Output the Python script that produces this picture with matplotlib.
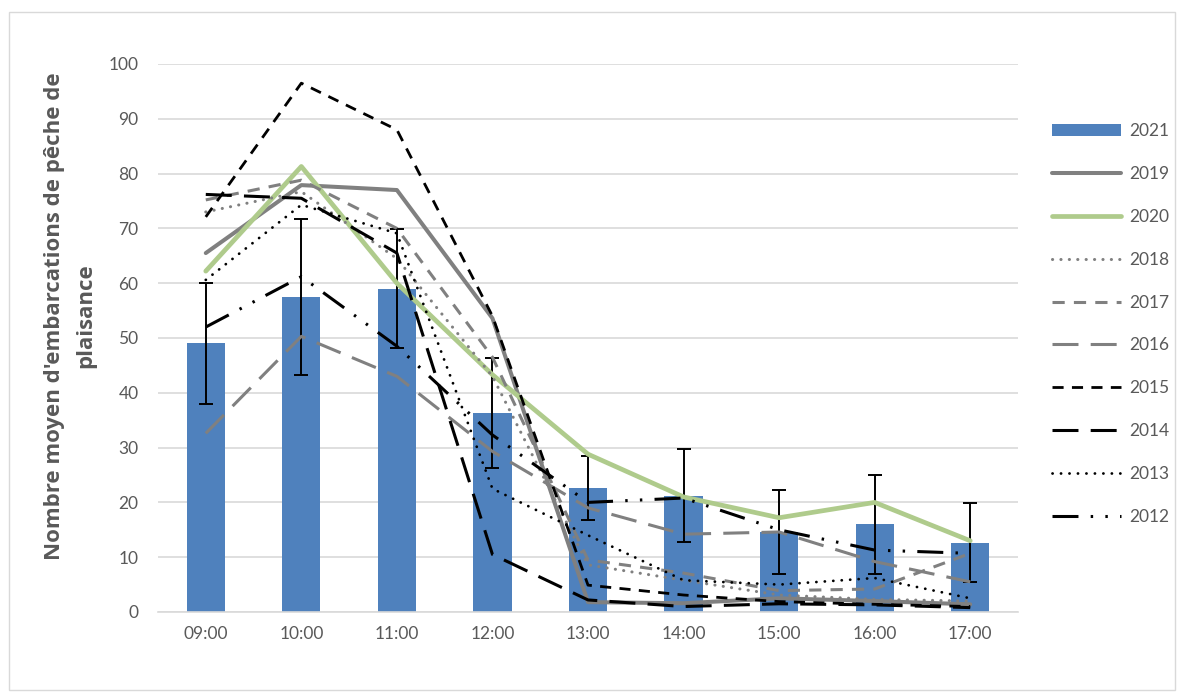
import matplotlib.pyplot as plt
from matplotlib.patches import Rectangle
import numpy as np

plt.rcParams["font.family"] = ["Lato", "DejaVu Sans"]

hours = ["09:00", "10:00", "11:00", "12:00", "13:00", "14:00", "15:00", "16:00", "17:00"]

y2021 = [49.0, 57.5, 59.0, 36.3, 22.6, 21.2, 14.6, 16.0, 12.6]
err2021 = [11.0, 14.2, 10.8, 10.0, 5.8, 8.5, 7.6, 9.0, 7.2]

y2019 = [65.5, 77.9, 77.0, 53.6, 1.8, 1.6, 2.5, 2.0, 1.4]
y2020 = [62.2, 81.3, 60.0, 43.3, 28.8, 21.0, 17.2, 20.0, 13.0]
y2018 = [73.0, 76.7, 64.5, 43.0, 8.6, 5.8, 3.1, 2.3, 2.0]
y2017 = [75.2, 78.8, 70.0, 46.5, 9.5, 7.1, 3.9, 4.2, 10.7]
y2016 = [32.6, 50.3, 43.0, 29.3, 19.0, 14.2, 14.6, 9.2, 5.5]
y2015 = [72.1, 96.5, 88.0, 54.0, 4.9, 3.1, 1.9, 1.4, 1.0]
y2014 = [76.2, 75.5, 65.5, 10.5, 2.2, 1.0, 1.5, 1.3, 0.8]
y2013 = [60.6, 74.3, 69.1, 22.5, 14.0, 5.8, 5.0, 6.2, 2.5]
y2012 = [52.0, 61.2, 48.5, 32.3, 20.0, 20.8, 15.0, 11.3, 10.7]

TXT = "#595959"
GRAY = "#808080"
GREEN = "#AFCB8C"


def main() -> None:
    fig = plt.figure(figsize=(11.84, 6.97), dpi=100)
    ax = fig.add_axes([158 / 1184, 1 - 612 / 697, 860 / 1184, 548 / 697])
    x = np.arange(len(hours))

    ax.bar(x, y2021, width=0.4, color="#4F81BD", label="2021", zorder=2)
    ax.errorbar(x, y2021, yerr=err2021, fmt="none", ecolor="black", elinewidth=1.4,
                capsize=5, capthick=1.4, zorder=3)

    series = [
        ("2019", y2019, dict(color=GRAY, lw=2.9, solid_capstyle="round")),
        ("2020", y2020, dict(color=GREEN, lw=3.4, solid_capstyle="round")),
        ("2018", y2018, dict(color=GRAY, lw=2.2, dashes=(0.05, 2.7), dash_capstyle="round")),
        ("2017", y2017, dict(color=GRAY, lw=2.2, dashes=(4, 3))),
        ("2016", y2016, dict(color=GRAY, lw=2.2, dashes=(8.5, 4))),
        ("2015", y2015, dict(color="black", lw=2.0, dashes=(4, 3))),
        ("2014", y2014, dict(color="black", lw=2.2, dashes=(8.5, 4))),
        ("2013", y2013, dict(color="black", lw=2.0, dashes=(0.05, 3.0), dash_capstyle="round")),
        ("2012", y2012, dict(color="black", lw=2.2, dashes=(8.5, 4, 0.8, 4, 0.8, 4))),
    ]
    for label, vals, style in series:
        ax.plot(x, vals, label=label, zorder=4, **style)

    ax.set_xlim(-0.5, len(hours) - 0.5)
    ax.set_ylim(0, 100)
    ax.set_yticks(np.arange(0, 101, 10))
    ax.set_xticks(x)
    ax.set_xticklabels(hours)
    ax.grid(axis="y", color="#D9D9D9", lw=1.2, zorder=0)
    ax.set_axisbelow(True)
    for side in ["top", "right", "left"]:
        ax.spines[side].set_visible(False)
    ax.spines["bottom"].set_color("#D9D9D9")
    ax.spines["bottom"].set_linewidth(1.2)
    ax.tick_params(length=0, labelsize=12.5, colors=TXT, pad=10)
    ax.tick_params(axis="y", pad=14)

    ax.set_ylabel("Nombre moyen d'embarcations de pêche de\nplaisance", fontsize=16,
                  fontweight="bold", color=TXT, labelpad=9, linespacing=1.65,
                  family=["Open Sans", "DejaVu Sans"], y=0.54, ha="center")

    handles, labels = ax.get_legend_handles_labels()
    order = [labels.index(y) for y in
             ["2021", "2019", "2020", "2018", "2017", "2016", "2015", "2014", "2013", "2012"]]
    leg = ax.legend([handles[i] for i in order], [labels[i] for i in order],
                    loc="upper left", bbox_to_anchor=(1045 / 1184, 1 - 116 / 697),
                    bbox_transform=fig.transFigure, frameon=False, fontsize=12.5,
                    handlelength=4.0, handletextpad=0.45, labelspacing=1.55,
                    borderaxespad=0)
    for t in leg.get_texts():
        t.set_color(TXT)

    fig.patches.append(Rectangle((9 / 1184, 1 - 690 / 697), 1166 / 1184, 678 / 697,
                                 transform=fig.transFigure, fill=False,
                                 edgecolor="#D9D9D9", lw=1.0))
    fig.savefig("out.png", dpi=100)


if __name__ == "__main__":
    main()
